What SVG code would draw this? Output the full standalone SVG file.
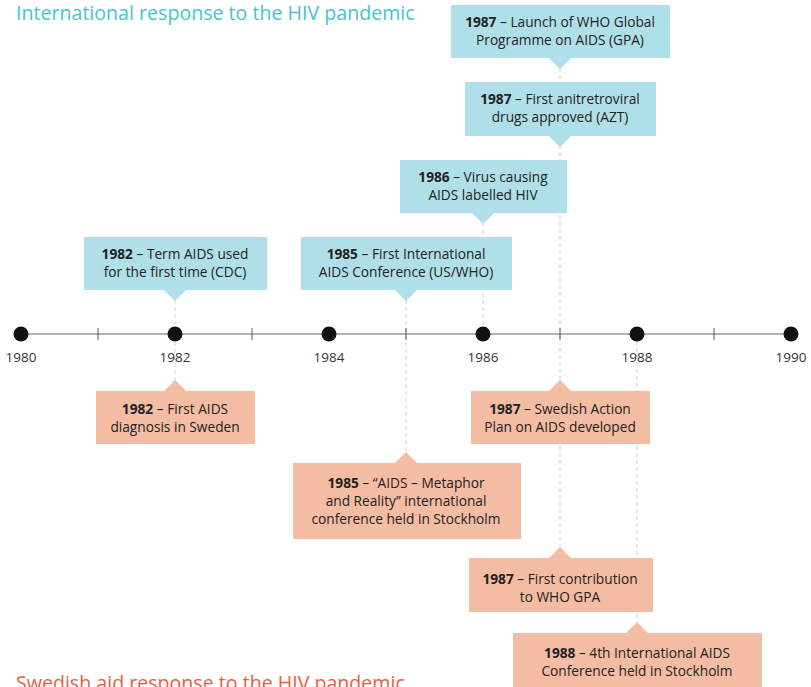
<svg xmlns="http://www.w3.org/2000/svg" width="811" height="687" viewBox="0 0 811 687">
<style>
.t{font-family:"Open Sans","Liberation Sans",Arial,sans-serif;font-size:13.7px;fill:#222;text-anchor:middle}
.b{font-weight:bold}
.yr{font-family:"Open Sans","Liberation Sans",Arial,sans-serif;font-size:13.5px;fill:#333;text-anchor:middle}
.intl{fill:#afdfe9}
.swe{fill:#f4bca2}
.dash{stroke:#cfcfcf;stroke-width:1;stroke-dasharray:4 3;fill:none}
.title{font-family:"Open Sans","Liberation Sans",Arial,sans-serif;font-size:19.6px}
</style>
<rect width="811" height="687" fill="#fff"/>
<text class="title" x="16" y="20" fill="#45c3d6">International response to the HIV pandemic</text>
<text class="title" x="16" y="690" fill="#e8603c">Swedish aid response to the HIV pandemic</text>
<g id="connectors">
<line class="dash" x1="175" y1="300" x2="175" y2="381"/>
<line class="dash" x1="406" y1="300" x2="406" y2="453"/>
<line class="dash" x1="483" y1="223" x2="483" y2="334"/>
<line class="dash" x1="560" y1="68" x2="560" y2="547"/>
<line class="dash" x1="637" y1="334" x2="637" y2="623"/>
</g>
<g id="timeline">
<line x1="21" y1="334" x2="791" y2="334" stroke="#666" stroke-width="1"/>
<g stroke="#555" stroke-width="1">
<line x1="98" y1="328" x2="98" y2="340"/>
<line x1="252" y1="328" x2="252" y2="340"/>
<line x1="406" y1="328" x2="406" y2="340"/>
<line x1="560" y1="328" x2="560" y2="340"/>
<line x1="714" y1="328" x2="714" y2="340"/>
</g>
<g fill="#111">
<circle cx="21" cy="334" r="7.5"/>
<circle cx="175" cy="334" r="7.5"/>
<circle cx="329" cy="334" r="7.5"/>
<circle cx="483" cy="334" r="7.5"/>
<circle cx="637" cy="334" r="7.5"/>
<circle cx="791" cy="334" r="7.5"/>
</g>
<text class="yr" x="21" y="362">1980</text>
<text class="yr" x="175" y="362">1982</text>
<text class="yr" x="329" y="362">1984</text>
<text class="yr" x="483" y="362">1986</text>
<text class="yr" x="637" y="362">1988</text>
<text class="yr" x="791" y="362">1990</text>
</g>
<g id="i1987gpa">
<path class="intl" d="M451 5H670V58H571L560 69L549 58H451Z"/>
<text class="t" x="560" y="27"><tspan class="b">1987</tspan> – Launch of WHO Global</text>
<text class="t" x="560" y="45">Programme on AIDS (GPA)</text>
</g>
<g id="i1987azt">
<path class="intl" d="M465 82H656V136H571L560 147L549 136H465Z"/>
<text class="t" x="560" y="104"><tspan class="b">1987</tspan> – First anitretroviral</text>
<text class="t" x="560" y="122">drugs approved (AZT)</text>
</g>
<g id="i1986">
<path class="intl" d="M400 160H567V213H494L483 224L472 213H400Z"/>
<text class="t" x="483" y="182"><tspan class="b">1986</tspan> – Virus causing</text>
<text class="t" x="483" y="200">AIDS labelled HIV</text>
</g>
<g id="i1982">
<path class="intl" d="M84 237H267V290H186L175 301L164 290H84Z"/>
<text class="t" x="175" y="259"><tspan class="b">1982</tspan> – Term AIDS used</text>
<text class="t" x="175" y="277">for the first time (CDC)</text>
</g>
<g id="i1985">
<path class="intl" d="M301 237H512V290H417L406 301L395 290H301Z"/>
<text class="t" x="406" y="259"><tspan class="b">1985</tspan> – First International</text>
<text class="t" x="406" y="277">AIDS Conference (US/WHO)</text>
</g>
<g id="s1982">
<path class="swe" d="M96 391H164L175 380L186 391H255V444H96Z"/>
<text class="t" x="175" y="414"><tspan class="b">1982</tspan> – First AIDS</text>
<text class="t" x="175" y="432">diagnosis in Sweden</text>
</g>
<g id="s1987plan">
<path class="swe" d="M471 391H549L560 380L571 391H650V444H471Z"/>
<text class="t" x="560" y="414"><tspan class="b">1987</tspan> – Swedish Action</text>
<text class="t" x="560" y="432">Plan on AIDS developed</text>
</g>
<g id="s1985">
<path class="swe" d="M293 463H395L406 452L417 463H521V539H293Z"/>
<text class="t" x="406" y="488"><tspan class="b">1985</tspan> – “AIDS – Metaphor</text>
<text class="t" x="406" y="506">and Reality” international</text>
<text class="t" x="406" y="524">conference held in Stockholm</text>
</g>
<g id="s1987gpa">
<path class="swe" d="M469 558H549L560 547L571 558H653V612H469Z"/>
<text class="t" x="560" y="584"><tspan class="b">1987</tspan> – First contribution</text>
<text class="t" x="560" y="602">to WHO GPA</text>
</g>
<g id="s1988">
<path class="swe" d="M513 633H626L637 622L648 633H762V687H513Z"/>
<text class="t" x="637" y="658"><tspan class="b">1988</tspan> – 4th International AIDS</text>
<text class="t" x="637" y="676">Conference held in Stockholm</text>
</g>
</svg>
